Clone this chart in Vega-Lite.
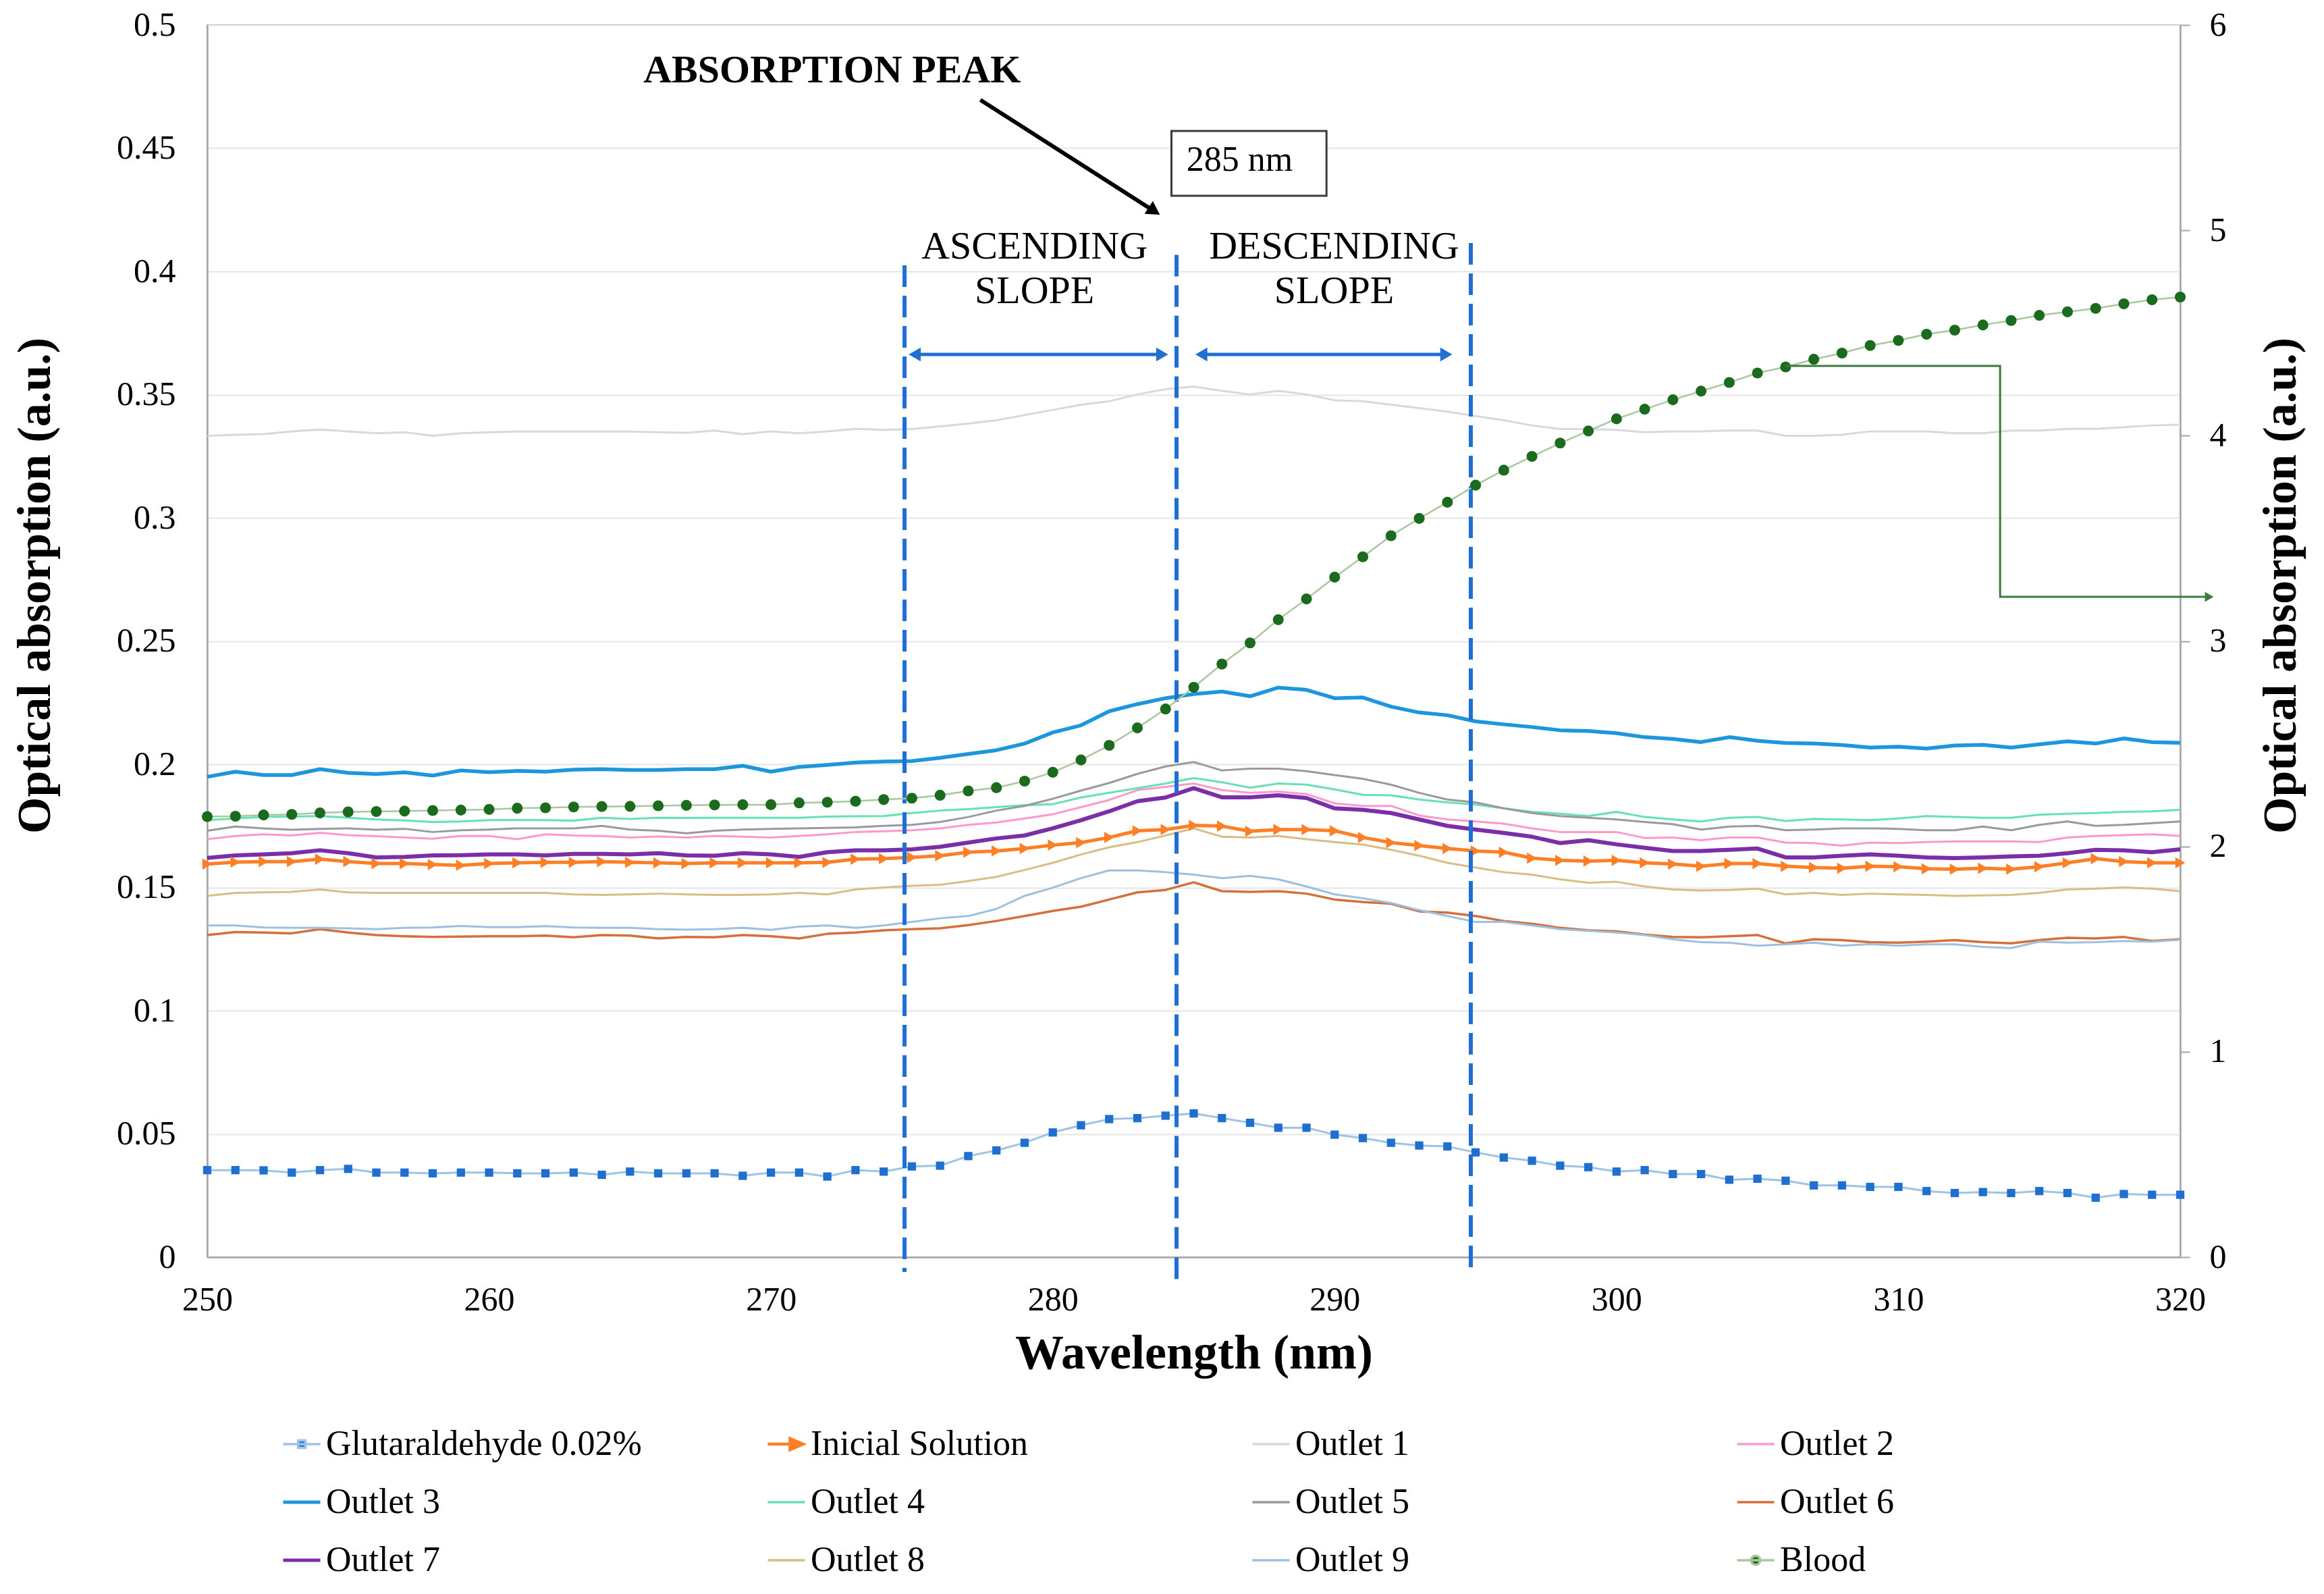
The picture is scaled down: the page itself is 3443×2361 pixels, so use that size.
{
"$schema":"https://vega.github.io/schema/vega-lite/v6.json",
"width":2923,"height":1825,
"autosize":{"type":"none"},
"padding":{"left":307,"top":37,"right":213,"bottom":499},
"background":"white",
"config":{
"font":"Liberation Serif",
"view":{"stroke":"#a6a6a6","strokeWidth":2},
"axis":{"labelFont":"Liberation Serif","titleFont":"Liberation Serif","labelFontSize":50,"titleFontSize":71,"titleFontWeight":"bold","labelColor":"#000000","titleColor":"#000000","domainColor":"#a6a6a6","domainWidth":2.5,"tickColor":"#a6a6a6","tickWidth":2,"grid":false,"labelFlush":false},
"legend":{"labelFont":"Liberation Serif"},
"text":{"font":"Liberation Serif"}
},
"datasets":{
"main":[
{"nm":250,"series":"Glutaraldehyde 0.02%","abs":0.0353},{"nm":251,"series":"Glutaraldehyde 0.02%","abs":0.0353},{"nm":252,"series":"Glutaraldehyde 0.02%","abs":0.0352},{"nm":253,"series":"Glutaraldehyde 0.02%","abs":0.0343},{"nm":254,"series":"Glutaraldehyde 0.02%","abs":0.0353},{"nm":255,"series":"Glutaraldehyde 0.02%","abs":0.0358},{"nm":256,"series":"Glutaraldehyde 0.02%","abs":0.0343},{"nm":257,"series":"Glutaraldehyde 0.02%","abs":0.0343},{"nm":258,"series":"Glutaraldehyde 0.02%","abs":0.0340},{"nm":259,"series":"Glutaraldehyde 0.02%","abs":0.0343},
{"nm":260,"series":"Glutaraldehyde 0.02%","abs":0.0343},{"nm":261,"series":"Glutaraldehyde 0.02%","abs":0.0340},{"nm":262,"series":"Glutaraldehyde 0.02%","abs":0.0340},{"nm":263,"series":"Glutaraldehyde 0.02%","abs":0.0343},{"nm":264,"series":"Glutaraldehyde 0.02%","abs":0.0334},{"nm":265,"series":"Glutaraldehyde 0.02%","abs":0.0347},{"nm":266,"series":"Glutaraldehyde 0.02%","abs":0.0340},{"nm":267,"series":"Glutaraldehyde 0.02%","abs":0.0340},{"nm":268,"series":"Glutaraldehyde 0.02%","abs":0.0340},{"nm":269,"series":"Glutaraldehyde 0.02%","abs":0.0330},
{"nm":270,"series":"Glutaraldehyde 0.02%","abs":0.0343},{"nm":271,"series":"Glutaraldehyde 0.02%","abs":0.0343},{"nm":272,"series":"Glutaraldehyde 0.02%","abs":0.0327},{"nm":273,"series":"Glutaraldehyde 0.02%","abs":0.0353},{"nm":274,"series":"Glutaraldehyde 0.02%","abs":0.0347},{"nm":275,"series":"Glutaraldehyde 0.02%","abs":0.0368},{"nm":276,"series":"Glutaraldehyde 0.02%","abs":0.0371},{"nm":277,"series":"Glutaraldehyde 0.02%","abs":0.0410},{"nm":278,"series":"Glutaraldehyde 0.02%","abs":0.0433},{"nm":279,"series":"Glutaraldehyde 0.02%","abs":0.0464},
{"nm":280,"series":"Glutaraldehyde 0.02%","abs":0.0506},{"nm":281,"series":"Glutaraldehyde 0.02%","abs":0.0535},{"nm":282,"series":"Glutaraldehyde 0.02%","abs":0.0560},{"nm":283,"series":"Glutaraldehyde 0.02%","abs":0.0564},{"nm":284,"series":"Glutaraldehyde 0.02%","abs":0.0574},{"nm":285,"series":"Glutaraldehyde 0.02%","abs":0.0583},{"nm":286,"series":"Glutaraldehyde 0.02%","abs":0.0564},{"nm":287,"series":"Glutaraldehyde 0.02%","abs":0.0545},{"nm":288,"series":"Glutaraldehyde 0.02%","abs":0.0525},{"nm":289,"series":"Glutaraldehyde 0.02%","abs":0.0525},
{"nm":290,"series":"Glutaraldehyde 0.02%","abs":0.0497},{"nm":291,"series":"Glutaraldehyde 0.02%","abs":0.0483},{"nm":292,"series":"Glutaraldehyde 0.02%","abs":0.0464},{"nm":293,"series":"Glutaraldehyde 0.02%","abs":0.0453},{"nm":294,"series":"Glutaraldehyde 0.02%","abs":0.0449},{"nm":295,"series":"Glutaraldehyde 0.02%","abs":0.0425},{"nm":296,"series":"Glutaraldehyde 0.02%","abs":0.0404},{"nm":297,"series":"Glutaraldehyde 0.02%","abs":0.0391},{"nm":298,"series":"Glutaraldehyde 0.02%","abs":0.0371},{"nm":299,"series":"Glutaraldehyde 0.02%","abs":0.0365},
{"nm":300,"series":"Glutaraldehyde 0.02%","abs":0.0347},{"nm":301,"series":"Glutaraldehyde 0.02%","abs":0.0353},{"nm":302,"series":"Glutaraldehyde 0.02%","abs":0.0337},{"nm":303,"series":"Glutaraldehyde 0.02%","abs":0.0337},{"nm":304,"series":"Glutaraldehyde 0.02%","abs":0.0314},{"nm":305,"series":"Glutaraldehyde 0.02%","abs":0.0318},{"nm":306,"series":"Glutaraldehyde 0.02%","abs":0.0310},{"nm":307,"series":"Glutaraldehyde 0.02%","abs":0.0291},{"nm":308,"series":"Glutaraldehyde 0.02%","abs":0.0291},{"nm":309,"series":"Glutaraldehyde 0.02%","abs":0.0285},
{"nm":310,"series":"Glutaraldehyde 0.02%","abs":0.0285},{"nm":311,"series":"Glutaraldehyde 0.02%","abs":0.0268},{"nm":312,"series":"Glutaraldehyde 0.02%","abs":0.0260},{"nm":313,"series":"Glutaraldehyde 0.02%","abs":0.0264},{"nm":314,"series":"Glutaraldehyde 0.02%","abs":0.0260},{"nm":315,"series":"Glutaraldehyde 0.02%","abs":0.0268},{"nm":316,"series":"Glutaraldehyde 0.02%","abs":0.0260},{"nm":317,"series":"Glutaraldehyde 0.02%","abs":0.0241},{"nm":318,"series":"Glutaraldehyde 0.02%","abs":0.0256},{"nm":319,"series":"Glutaraldehyde 0.02%","abs":0.0253},{"nm":320,"series":"Glutaraldehyde 0.02%","abs":0.0253},

{"nm":250,"series":"Inicial Solution","abs":0.1595},{"nm":251,"series":"Inicial Solution","abs":0.1603},{"nm":252,"series":"Inicial Solution","abs":0.1605},{"nm":253,"series":"Inicial Solution","abs":0.1605},{"nm":254,"series":"Inicial Solution","abs":0.1615},{"nm":255,"series":"Inicial Solution","abs":0.1605},{"nm":256,"series":"Inicial Solution","abs":0.1597},{"nm":257,"series":"Inicial Solution","abs":0.1597},{"nm":258,"series":"Inicial Solution","abs":0.1593},{"nm":259,"series":"Inicial Solution","abs":0.1590},
{"nm":260,"series":"Inicial Solution","abs":0.1597},{"nm":261,"series":"Inicial Solution","abs":0.1600},{"nm":262,"series":"Inicial Solution","abs":0.1602},{"nm":263,"series":"Inicial Solution","abs":0.1602},{"nm":264,"series":"Inicial Solution","abs":0.1605},{"nm":265,"series":"Inicial Solution","abs":0.1602},{"nm":266,"series":"Inicial Solution","abs":0.1600},{"nm":267,"series":"Inicial Solution","abs":0.1597},{"nm":268,"series":"Inicial Solution","abs":0.1600},{"nm":269,"series":"Inicial Solution","abs":0.1600},
{"nm":270,"series":"Inicial Solution","abs":0.1600},{"nm":271,"series":"Inicial Solution","abs":0.1600},{"nm":272,"series":"Inicial Solution","abs":0.1602},{"nm":273,"series":"Inicial Solution","abs":0.1615},{"nm":274,"series":"Inicial Solution","abs":0.1617},{"nm":275,"series":"Inicial Solution","abs":0.1622},{"nm":276,"series":"Inicial Solution","abs":0.1629},{"nm":277,"series":"Inicial Solution","abs":0.1643},{"nm":278,"series":"Inicial Solution","abs":0.1648},{"nm":279,"series":"Inicial Solution","abs":0.1658},
{"nm":280,"series":"Inicial Solution","abs":0.1672},{"nm":281,"series":"Inicial Solution","abs":0.1682},{"nm":282,"series":"Inicial Solution","abs":0.1703},{"nm":283,"series":"Inicial Solution","abs":0.1730},{"nm":284,"series":"Inicial Solution","abs":0.1735},{"nm":285,"series":"Inicial Solution","abs":0.1752},{"nm":286,"series":"Inicial Solution","abs":0.1749},{"nm":287,"series":"Inicial Solution","abs":0.1728},{"nm":288,"series":"Inicial Solution","abs":0.1735},{"nm":289,"series":"Inicial Solution","abs":0.1735},
{"nm":290,"series":"Inicial Solution","abs":0.1730},{"nm":291,"series":"Inicial Solution","abs":0.1703},{"nm":292,"series":"Inicial Solution","abs":0.1682},{"nm":293,"series":"Inicial Solution","abs":0.1670},{"nm":294,"series":"Inicial Solution","abs":0.1658},{"nm":295,"series":"Inicial Solution","abs":0.1648},{"nm":296,"series":"Inicial Solution","abs":0.1643},{"nm":297,"series":"Inicial Solution","abs":0.1619},{"nm":298,"series":"Inicial Solution","abs":0.1610},{"nm":299,"series":"Inicial Solution","abs":0.1607},
{"nm":300,"series":"Inicial Solution","abs":0.1610},{"nm":301,"series":"Inicial Solution","abs":0.1600},{"nm":302,"series":"Inicial Solution","abs":0.1595},{"nm":303,"series":"Inicial Solution","abs":0.1586},{"nm":304,"series":"Inicial Solution","abs":0.1597},{"nm":305,"series":"Inicial Solution","abs":0.1597},{"nm":306,"series":"Inicial Solution","abs":0.1586},{"nm":307,"series":"Inicial Solution","abs":0.1581},{"nm":308,"series":"Inicial Solution","abs":0.1578},{"nm":309,"series":"Inicial Solution","abs":0.1586},
{"nm":310,"series":"Inicial Solution","abs":0.1584},{"nm":311,"series":"Inicial Solution","abs":0.1576},{"nm":312,"series":"Inicial Solution","abs":0.1574},{"nm":313,"series":"Inicial Solution","abs":0.1578},{"nm":314,"series":"Inicial Solution","abs":0.1574},{"nm":315,"series":"Inicial Solution","abs":0.1584},{"nm":316,"series":"Inicial Solution","abs":0.1600},{"nm":317,"series":"Inicial Solution","abs":0.1617},{"nm":318,"series":"Inicial Solution","abs":0.1605},{"nm":319,"series":"Inicial Solution","abs":0.1600},{"nm":320,"series":"Inicial Solution","abs":0.1600},

{"nm":250,"series":"Outlet 1","abs":0.3333},{"nm":251,"series":"Outlet 1","abs":0.3337},{"nm":252,"series":"Outlet 1","abs":0.3340},{"nm":253,"series":"Outlet 1","abs":0.3351},{"nm":254,"series":"Outlet 1","abs":0.3358},{"nm":255,"series":"Outlet 1","abs":0.3351},{"nm":256,"series":"Outlet 1","abs":0.3343},{"nm":257,"series":"Outlet 1","abs":0.3347},{"nm":258,"series":"Outlet 1","abs":0.3333},{"nm":259,"series":"Outlet 1","abs":0.3343},
{"nm":260,"series":"Outlet 1","abs":0.3347},{"nm":261,"series":"Outlet 1","abs":0.3350},{"nm":262,"series":"Outlet 1","abs":0.3350},{"nm":263,"series":"Outlet 1","abs":0.3350},{"nm":264,"series":"Outlet 1","abs":0.3350},{"nm":265,"series":"Outlet 1","abs":0.3350},{"nm":266,"series":"Outlet 1","abs":0.3347},{"nm":267,"series":"Outlet 1","abs":0.3345},{"nm":268,"series":"Outlet 1","abs":0.3354},{"nm":269,"series":"Outlet 1","abs":0.3340},
{"nm":270,"series":"Outlet 1","abs":0.3351},{"nm":271,"series":"Outlet 1","abs":0.3343},{"nm":272,"series":"Outlet 1","abs":0.3351},{"nm":273,"series":"Outlet 1","abs":0.3361},{"nm":274,"series":"Outlet 1","abs":0.3357},{"nm":275,"series":"Outlet 1","abs":0.3360},{"nm":276,"series":"Outlet 1","abs":0.3371},{"nm":277,"series":"Outlet 1","abs":0.3382},{"nm":278,"series":"Outlet 1","abs":0.3396},{"nm":279,"series":"Outlet 1","abs":0.3417},
{"nm":280,"series":"Outlet 1","abs":0.3438},{"nm":281,"series":"Outlet 1","abs":0.3459},{"nm":282,"series":"Outlet 1","abs":0.3473},{"nm":283,"series":"Outlet 1","abs":0.3501},{"nm":284,"series":"Outlet 1","abs":0.3522},{"nm":285,"series":"Outlet 1","abs":0.3533},{"nm":286,"series":"Outlet 1","abs":0.3515},{"nm":287,"series":"Outlet 1","abs":0.3501},{"nm":288,"series":"Outlet 1","abs":0.3515},{"nm":289,"series":"Outlet 1","abs":0.3501},
{"nm":290,"series":"Outlet 1","abs":0.3477},{"nm":291,"series":"Outlet 1","abs":0.3473},{"nm":292,"series":"Outlet 1","abs":0.3459},{"nm":293,"series":"Outlet 1","abs":0.3445},{"nm":294,"series":"Outlet 1","abs":0.3431},{"nm":295,"series":"Outlet 1","abs":0.3413},{"nm":296,"series":"Outlet 1","abs":0.3396},{"nm":297,"series":"Outlet 1","abs":0.3375},{"nm":298,"series":"Outlet 1","abs":0.3360},{"nm":299,"series":"Outlet 1","abs":0.3360},
{"nm":300,"series":"Outlet 1","abs":0.3357},{"nm":301,"series":"Outlet 1","abs":0.3347},{"nm":302,"series":"Outlet 1","abs":0.3351},{"nm":303,"series":"Outlet 1","abs":0.3351},{"nm":304,"series":"Outlet 1","abs":0.3354},{"nm":305,"series":"Outlet 1","abs":0.3354},{"nm":306,"series":"Outlet 1","abs":0.3333},{"nm":307,"series":"Outlet 1","abs":0.3333},{"nm":308,"series":"Outlet 1","abs":0.3337},{"nm":309,"series":"Outlet 1","abs":0.3351},
{"nm":310,"series":"Outlet 1","abs":0.3351},{"nm":311,"series":"Outlet 1","abs":0.3351},{"nm":312,"series":"Outlet 1","abs":0.3343},{"nm":313,"series":"Outlet 1","abs":0.3343},{"nm":314,"series":"Outlet 1","abs":0.3354},{"nm":315,"series":"Outlet 1","abs":0.3354},{"nm":316,"series":"Outlet 1","abs":0.3361},{"nm":317,"series":"Outlet 1","abs":0.3361},{"nm":318,"series":"Outlet 1","abs":0.3368},{"nm":319,"series":"Outlet 1","abs":0.3375},{"nm":320,"series":"Outlet 1","abs":0.3378},

{"nm":250,"series":"Outlet 2","abs":0.1696},{"nm":251,"series":"Outlet 2","abs":0.1709},{"nm":252,"series":"Outlet 2","abs":0.1716},{"nm":253,"series":"Outlet 2","abs":0.1711},{"nm":254,"series":"Outlet 2","abs":0.1722},{"nm":255,"series":"Outlet 2","abs":0.1712},{"nm":256,"series":"Outlet 2","abs":0.1708},{"nm":257,"series":"Outlet 2","abs":0.1703},{"nm":258,"series":"Outlet 2","abs":0.1698},{"nm":259,"series":"Outlet 2","abs":0.1709},
{"nm":260,"series":"Outlet 2","abs":0.1709},{"nm":261,"series":"Outlet 2","abs":0.1696},{"nm":262,"series":"Outlet 2","abs":0.1716},{"nm":263,"series":"Outlet 2","abs":0.1711},{"nm":264,"series":"Outlet 2","abs":0.1709},{"nm":265,"series":"Outlet 2","abs":0.1703},{"nm":266,"series":"Outlet 2","abs":0.1707},{"nm":267,"series":"Outlet 2","abs":0.1703},{"nm":268,"series":"Outlet 2","abs":0.1709},{"nm":269,"series":"Outlet 2","abs":0.1706},
{"nm":270,"series":"Outlet 2","abs":0.1703},{"nm":271,"series":"Outlet 2","abs":0.1709},{"nm":272,"series":"Outlet 2","abs":0.1716},{"nm":273,"series":"Outlet 2","abs":0.1725},{"nm":274,"series":"Outlet 2","abs":0.1728},{"nm":275,"series":"Outlet 2","abs":0.1732},{"nm":276,"series":"Outlet 2","abs":0.1740},{"nm":277,"series":"Outlet 2","abs":0.1754},{"nm":278,"series":"Outlet 2","abs":0.1764},{"nm":279,"series":"Outlet 2","abs":0.1780},
{"nm":280,"series":"Outlet 2","abs":0.1797},{"nm":281,"series":"Outlet 2","abs":0.1826},{"nm":282,"series":"Outlet 2","abs":0.1855},{"nm":283,"series":"Outlet 2","abs":0.1895},{"nm":284,"series":"Outlet 2","abs":0.1908},{"nm":285,"series":"Outlet 2","abs":0.1922},{"nm":286,"series":"Outlet 2","abs":0.1895},{"nm":287,"series":"Outlet 2","abs":0.1884},{"nm":288,"series":"Outlet 2","abs":0.1889},{"nm":289,"series":"Outlet 2","abs":0.1879},
{"nm":290,"series":"Outlet 2","abs":0.1841},{"nm":291,"series":"Outlet 2","abs":0.1831},{"nm":292,"series":"Outlet 2","abs":0.1831},{"nm":293,"series":"Outlet 2","abs":0.1792},{"nm":294,"series":"Outlet 2","abs":0.1776},{"nm":295,"series":"Outlet 2","abs":0.1768},{"nm":296,"series":"Outlet 2","abs":0.1759},{"nm":297,"series":"Outlet 2","abs":0.1740},{"nm":298,"series":"Outlet 2","abs":0.1725},{"nm":299,"series":"Outlet 2","abs":0.1725},
{"nm":300,"series":"Outlet 2","abs":0.1725},{"nm":301,"series":"Outlet 2","abs":0.1701},{"nm":302,"series":"Outlet 2","abs":0.1703},{"nm":303,"series":"Outlet 2","abs":0.1692},{"nm":304,"series":"Outlet 2","abs":0.1703},{"nm":305,"series":"Outlet 2","abs":0.1703},{"nm":306,"series":"Outlet 2","abs":0.1682},{"nm":307,"series":"Outlet 2","abs":0.1680},{"nm":308,"series":"Outlet 2","abs":0.1670},{"nm":309,"series":"Outlet 2","abs":0.1682},
{"nm":310,"series":"Outlet 2","abs":0.1680},{"nm":311,"series":"Outlet 2","abs":0.1684},{"nm":312,"series":"Outlet 2","abs":0.1687},{"nm":313,"series":"Outlet 2","abs":0.1687},{"nm":314,"series":"Outlet 2","abs":0.1687},{"nm":315,"series":"Outlet 2","abs":0.1684},{"nm":316,"series":"Outlet 2","abs":0.1703},{"nm":317,"series":"Outlet 2","abs":0.1709},{"nm":318,"series":"Outlet 2","abs":0.1712},{"nm":319,"series":"Outlet 2","abs":0.1716},{"nm":320,"series":"Outlet 2","abs":0.1709},

{"nm":250,"series":"Outlet 3","abs":0.1949},{"nm":251,"series":"Outlet 3","abs":0.1970},{"nm":252,"series":"Outlet 3","abs":0.1956},{"nm":253,"series":"Outlet 3","abs":0.1956},{"nm":254,"series":"Outlet 3","abs":0.1980},{"nm":255,"series":"Outlet 3","abs":0.1965},{"nm":256,"series":"Outlet 3","abs":0.1960},{"nm":257,"series":"Outlet 3","abs":0.1967},{"nm":258,"series":"Outlet 3","abs":0.1954},{"nm":259,"series":"Outlet 3","abs":0.1975},
{"nm":260,"series":"Outlet 3","abs":0.1968},{"nm":261,"series":"Outlet 3","abs":0.1973},{"nm":262,"series":"Outlet 3","abs":0.1970},{"nm":263,"series":"Outlet 3","abs":0.1978},{"nm":264,"series":"Outlet 3","abs":0.1980},{"nm":265,"series":"Outlet 3","abs":0.1977},{"nm":266,"series":"Outlet 3","abs":0.1977},{"nm":267,"series":"Outlet 3","abs":0.1980},{"nm":268,"series":"Outlet 3","abs":0.1980},{"nm":269,"series":"Outlet 3","abs":0.1994},
{"nm":270,"series":"Outlet 3","abs":0.1970},{"nm":271,"series":"Outlet 3","abs":0.1989},{"nm":272,"series":"Outlet 3","abs":0.1997},{"nm":273,"series":"Outlet 3","abs":0.2007},{"nm":274,"series":"Outlet 3","abs":0.2011},{"nm":275,"series":"Outlet 3","abs":0.2013},{"nm":276,"series":"Outlet 3","abs":0.2026},{"nm":277,"series":"Outlet 3","abs":0.2042},{"nm":278,"series":"Outlet 3","abs":0.2057},{"nm":279,"series":"Outlet 3","abs":0.2084},
{"nm":280,"series":"Outlet 3","abs":0.2129},{"nm":281,"series":"Outlet 3","abs":0.2158},{"nm":282,"series":"Outlet 3","abs":0.2215},{"nm":283,"series":"Outlet 3","abs":0.2244},{"nm":284,"series":"Outlet 3","abs":0.2268},{"nm":285,"series":"Outlet 3","abs":0.2285},{"nm":286,"series":"Outlet 3","abs":0.2295},{"nm":287,"series":"Outlet 3","abs":0.2276},{"nm":288,"series":"Outlet 3","abs":0.2311},{"nm":289,"series":"Outlet 3","abs":0.2302},
{"nm":290,"series":"Outlet 3","abs":0.2268},{"nm":291,"series":"Outlet 3","abs":0.2271},{"nm":292,"series":"Outlet 3","abs":0.2234},{"nm":293,"series":"Outlet 3","abs":0.2210},{"nm":294,"series":"Outlet 3","abs":0.2199},{"nm":295,"series":"Outlet 3","abs":0.2174},{"nm":296,"series":"Outlet 3","abs":0.2162},{"nm":297,"series":"Outlet 3","abs":0.2151},{"nm":298,"series":"Outlet 3","abs":0.2138},{"nm":299,"series":"Outlet 3","abs":0.2135},
{"nm":300,"series":"Outlet 3","abs":0.2126},{"nm":301,"series":"Outlet 3","abs":0.2110},{"nm":302,"series":"Outlet 3","abs":0.2103},{"nm":303,"series":"Outlet 3","abs":0.2090},{"nm":304,"series":"Outlet 3","abs":0.2110},{"nm":305,"series":"Outlet 3","abs":0.2095},{"nm":306,"series":"Outlet 3","abs":0.2086},{"nm":307,"series":"Outlet 3","abs":0.2084},{"nm":308,"series":"Outlet 3","abs":0.2078},{"nm":309,"series":"Outlet 3","abs":0.2068},
{"nm":310,"series":"Outlet 3","abs":0.2071},{"nm":311,"series":"Outlet 3","abs":0.2064},{"nm":312,"series":"Outlet 3","abs":0.2076},{"nm":313,"series":"Outlet 3","abs":0.2079},{"nm":314,"series":"Outlet 3","abs":0.2068},{"nm":315,"series":"Outlet 3","abs":0.2081},{"nm":316,"series":"Outlet 3","abs":0.2093},{"nm":317,"series":"Outlet 3","abs":0.2084},{"nm":318,"series":"Outlet 3","abs":0.2105},{"nm":319,"series":"Outlet 3","abs":0.2090},{"nm":320,"series":"Outlet 3","abs":0.2087},

{"nm":250,"series":"Outlet 4","abs":0.1773},{"nm":251,"series":"Outlet 4","abs":0.1780},{"nm":252,"series":"Outlet 4","abs":0.1786},{"nm":253,"series":"Outlet 4","abs":0.1788},{"nm":254,"series":"Outlet 4","abs":0.1790},{"nm":255,"series":"Outlet 4","abs":0.1783},{"nm":256,"series":"Outlet 4","abs":0.1776},{"nm":257,"series":"Outlet 4","abs":0.1772},{"nm":258,"series":"Outlet 4","abs":0.1766},{"nm":259,"series":"Outlet 4","abs":0.1768},
{"nm":260,"series":"Outlet 4","abs":0.1773},{"nm":261,"series":"Outlet 4","abs":0.1774},{"nm":262,"series":"Outlet 4","abs":0.1773},{"nm":263,"series":"Outlet 4","abs":0.1771},{"nm":264,"series":"Outlet 4","abs":0.1783},{"nm":265,"series":"Outlet 4","abs":0.1778},{"nm":266,"series":"Outlet 4","abs":0.1783},{"nm":267,"series":"Outlet 4","abs":0.1782},{"nm":268,"series":"Outlet 4","abs":0.1783},{"nm":269,"series":"Outlet 4","abs":0.1783},
{"nm":270,"series":"Outlet 4","abs":0.1783},{"nm":271,"series":"Outlet 4","abs":0.1783},{"nm":272,"series":"Outlet 4","abs":0.1788},{"nm":273,"series":"Outlet 4","abs":0.1789},{"nm":274,"series":"Outlet 4","abs":0.1790},{"nm":275,"series":"Outlet 4","abs":0.1802},{"nm":276,"series":"Outlet 4","abs":0.1812},{"nm":277,"series":"Outlet 4","abs":0.1818},{"nm":278,"series":"Outlet 4","abs":0.1826},{"nm":279,"series":"Outlet 4","abs":0.1834},
{"nm":280,"series":"Outlet 4","abs":0.1838},{"nm":281,"series":"Outlet 4","abs":0.1865},{"nm":282,"series":"Outlet 4","abs":0.1884},{"nm":283,"series":"Outlet 4","abs":0.1903},{"nm":284,"series":"Outlet 4","abs":0.1922},{"nm":285,"series":"Outlet 4","abs":0.1944},{"nm":286,"series":"Outlet 4","abs":0.1927},{"nm":287,"series":"Outlet 4","abs":0.1905},{"nm":288,"series":"Outlet 4","abs":0.1922},{"nm":289,"series":"Outlet 4","abs":0.1917},
{"nm":290,"series":"Outlet 4","abs":0.1898},{"nm":291,"series":"Outlet 4","abs":0.1876},{"nm":292,"series":"Outlet 4","abs":0.1874},{"nm":293,"series":"Outlet 4","abs":0.1857},{"nm":294,"series":"Outlet 4","abs":0.1845},{"nm":295,"series":"Outlet 4","abs":0.1836},{"nm":296,"series":"Outlet 4","abs":0.1821},{"nm":297,"series":"Outlet 4","abs":0.1807},{"nm":298,"series":"Outlet 4","abs":0.1799},{"nm":299,"series":"Outlet 4","abs":0.1790},
{"nm":300,"series":"Outlet 4","abs":0.1807},{"nm":301,"series":"Outlet 4","abs":0.1786},{"nm":302,"series":"Outlet 4","abs":0.1776},{"nm":303,"series":"Outlet 4","abs":0.1768},{"nm":304,"series":"Outlet 4","abs":0.1783},{"nm":305,"series":"Outlet 4","abs":0.1786},{"nm":306,"series":"Outlet 4","abs":0.1770},{"nm":307,"series":"Outlet 4","abs":0.1778},{"nm":308,"series":"Outlet 4","abs":0.1776},{"nm":309,"series":"Outlet 4","abs":0.1773},
{"nm":310,"series":"Outlet 4","abs":0.1780},{"nm":311,"series":"Outlet 4","abs":0.1790},{"nm":312,"series":"Outlet 4","abs":0.1786},{"nm":313,"series":"Outlet 4","abs":0.1783},{"nm":314,"series":"Outlet 4","abs":0.1783},{"nm":315,"series":"Outlet 4","abs":0.1795},{"nm":316,"series":"Outlet 4","abs":0.1799},{"nm":317,"series":"Outlet 4","abs":0.1802},{"nm":318,"series":"Outlet 4","abs":0.1807},{"nm":319,"series":"Outlet 4","abs":0.1809},{"nm":320,"series":"Outlet 4","abs":0.1815},

{"nm":250,"series":"Outlet 5","abs":0.1730},{"nm":251,"series":"Outlet 5","abs":0.1747},{"nm":252,"series":"Outlet 5","abs":0.1740},{"nm":253,"series":"Outlet 5","abs":0.1734},{"nm":254,"series":"Outlet 5","abs":0.1738},{"nm":255,"series":"Outlet 5","abs":0.1740},{"nm":256,"series":"Outlet 5","abs":0.1734},{"nm":257,"series":"Outlet 5","abs":0.1738},{"nm":258,"series":"Outlet 5","abs":0.1725},{"nm":259,"series":"Outlet 5","abs":0.1732},
{"nm":260,"series":"Outlet 5","abs":0.1735},{"nm":261,"series":"Outlet 5","abs":0.1740},{"nm":262,"series":"Outlet 5","abs":0.1740},{"nm":263,"series":"Outlet 5","abs":0.1740},{"nm":264,"series":"Outlet 5","abs":0.1750},{"nm":265,"series":"Outlet 5","abs":0.1735},{"nm":266,"series":"Outlet 5","abs":0.1730},{"nm":267,"series":"Outlet 5","abs":0.1720},{"nm":268,"series":"Outlet 5","abs":0.1730},{"nm":269,"series":"Outlet 5","abs":0.1735},
{"nm":270,"series":"Outlet 5","abs":0.1738},{"nm":271,"series":"Outlet 5","abs":0.1740},{"nm":272,"series":"Outlet 5","abs":0.1742},{"nm":273,"series":"Outlet 5","abs":0.1744},{"nm":274,"series":"Outlet 5","abs":0.1750},{"nm":275,"series":"Outlet 5","abs":0.1754},{"nm":276,"series":"Outlet 5","abs":0.1766},{"nm":277,"series":"Outlet 5","abs":0.1786},{"nm":278,"series":"Outlet 5","abs":0.1812},{"nm":279,"series":"Outlet 5","abs":0.1831},
{"nm":280,"series":"Outlet 5","abs":0.1860},{"nm":281,"series":"Outlet 5","abs":0.1893},{"nm":282,"series":"Outlet 5","abs":0.1924},{"nm":283,"series":"Outlet 5","abs":0.1961},{"nm":284,"series":"Outlet 5","abs":0.1991},{"nm":285,"series":"Outlet 5","abs":0.2009},{"nm":286,"series":"Outlet 5","abs":0.1975},{"nm":287,"series":"Outlet 5","abs":0.1982},{"nm":288,"series":"Outlet 5","abs":0.1982},{"nm":289,"series":"Outlet 5","abs":0.1972},
{"nm":290,"series":"Outlet 5","abs":0.1956},{"nm":291,"series":"Outlet 5","abs":0.1941},{"nm":292,"series":"Outlet 5","abs":0.1917},{"nm":293,"series":"Outlet 5","abs":0.1884},{"nm":294,"series":"Outlet 5","abs":0.1857},{"nm":295,"series":"Outlet 5","abs":0.1845},{"nm":296,"series":"Outlet 5","abs":0.1821},{"nm":297,"series":"Outlet 5","abs":0.1802},{"nm":298,"series":"Outlet 5","abs":0.1790},{"nm":299,"series":"Outlet 5","abs":0.1783},
{"nm":300,"series":"Outlet 5","abs":0.1776},{"nm":301,"series":"Outlet 5","abs":0.1766},{"nm":302,"series":"Outlet 5","abs":0.1757},{"nm":303,"series":"Outlet 5","abs":0.1735},{"nm":304,"series":"Outlet 5","abs":0.1747},{"nm":305,"series":"Outlet 5","abs":0.1750},{"nm":306,"series":"Outlet 5","abs":0.1732},{"nm":307,"series":"Outlet 5","abs":0.1735},{"nm":308,"series":"Outlet 5","abs":0.1740},{"nm":309,"series":"Outlet 5","abs":0.1740},
{"nm":310,"series":"Outlet 5","abs":0.1738},{"nm":311,"series":"Outlet 5","abs":0.1732},{"nm":312,"series":"Outlet 5","abs":0.1732},{"nm":313,"series":"Outlet 5","abs":0.1747},{"nm":314,"series":"Outlet 5","abs":0.1732},{"nm":315,"series":"Outlet 5","abs":0.1754},{"nm":316,"series":"Outlet 5","abs":0.1768},{"nm":317,"series":"Outlet 5","abs":0.1750},{"nm":318,"series":"Outlet 5","abs":0.1754},{"nm":319,"series":"Outlet 5","abs":0.1761},{"nm":320,"series":"Outlet 5","abs":0.1768},

{"nm":250,"series":"Outlet 6","abs":0.1307},{"nm":251,"series":"Outlet 6","abs":0.1319},{"nm":252,"series":"Outlet 6","abs":0.1317},{"nm":253,"series":"Outlet 6","abs":0.1314},{"nm":254,"series":"Outlet 6","abs":0.1331},{"nm":255,"series":"Outlet 6","abs":0.1317},{"nm":256,"series":"Outlet 6","abs":0.1307},{"nm":257,"series":"Outlet 6","abs":0.1302},{"nm":258,"series":"Outlet 6","abs":0.1299},{"nm":259,"series":"Outlet 6","abs":0.1301},
{"nm":260,"series":"Outlet 6","abs":0.1302},{"nm":261,"series":"Outlet 6","abs":0.1302},{"nm":262,"series":"Outlet 6","abs":0.1305},{"nm":263,"series":"Outlet 6","abs":0.1298},{"nm":264,"series":"Outlet 6","abs":0.1307},{"nm":265,"series":"Outlet 6","abs":0.1305},{"nm":266,"series":"Outlet 6","abs":0.1293},{"nm":267,"series":"Outlet 6","abs":0.1299},{"nm":268,"series":"Outlet 6","abs":0.1298},{"nm":269,"series":"Outlet 6","abs":0.1307},
{"nm":270,"series":"Outlet 6","abs":0.1302},{"nm":271,"series":"Outlet 6","abs":0.1293},{"nm":272,"series":"Outlet 6","abs":0.1312},{"nm":273,"series":"Outlet 6","abs":0.1317},{"nm":274,"series":"Outlet 6","abs":0.1326},{"nm":275,"series":"Outlet 6","abs":0.1331},{"nm":276,"series":"Outlet 6","abs":0.1334},{"nm":277,"series":"Outlet 6","abs":0.1347},{"nm":278,"series":"Outlet 6","abs":0.1364},{"nm":279,"series":"Outlet 6","abs":0.1384},
{"nm":280,"series":"Outlet 6","abs":0.1405},{"nm":281,"series":"Outlet 6","abs":0.1422},{"nm":282,"series":"Outlet 6","abs":0.1451},{"nm":283,"series":"Outlet 6","abs":0.1480},{"nm":284,"series":"Outlet 6","abs":0.1490},{"nm":285,"series":"Outlet 6","abs":0.1521},{"nm":286,"series":"Outlet 6","abs":0.1485},{"nm":287,"series":"Outlet 6","abs":0.1482},{"nm":288,"series":"Outlet 6","abs":0.1485},{"nm":289,"series":"Outlet 6","abs":0.1475},
{"nm":290,"series":"Outlet 6","abs":0.1451},{"nm":291,"series":"Outlet 6","abs":0.1441},{"nm":292,"series":"Outlet 6","abs":0.1434},{"nm":293,"series":"Outlet 6","abs":0.1403},{"nm":294,"series":"Outlet 6","abs":0.1398},{"nm":295,"series":"Outlet 6","abs":0.1384},{"nm":296,"series":"Outlet 6","abs":0.1364},{"nm":297,"series":"Outlet 6","abs":0.1353},{"nm":298,"series":"Outlet 6","abs":0.1336},{"nm":299,"series":"Outlet 6","abs":0.1326},
{"nm":300,"series":"Outlet 6","abs":0.1322},{"nm":301,"series":"Outlet 6","abs":0.1309},{"nm":302,"series":"Outlet 6","abs":0.1299},{"nm":303,"series":"Outlet 6","abs":0.1298},{"nm":304,"series":"Outlet 6","abs":0.1302},{"nm":305,"series":"Outlet 6","abs":0.1307},{"nm":306,"series":"Outlet 6","abs":0.1273},{"nm":307,"series":"Outlet 6","abs":0.1290},{"nm":308,"series":"Outlet 6","abs":0.1286},{"nm":309,"series":"Outlet 6","abs":0.1278},
{"nm":310,"series":"Outlet 6","abs":0.1276},{"nm":311,"series":"Outlet 6","abs":0.1280},{"nm":312,"series":"Outlet 6","abs":0.1286},{"nm":313,"series":"Outlet 6","abs":0.1278},{"nm":314,"series":"Outlet 6","abs":0.1273},{"nm":315,"series":"Outlet 6","abs":0.1286},{"nm":316,"series":"Outlet 6","abs":0.1296},{"nm":317,"series":"Outlet 6","abs":0.1293},{"nm":318,"series":"Outlet 6","abs":0.1299},{"nm":319,"series":"Outlet 6","abs":0.1283},{"nm":320,"series":"Outlet 6","abs":0.1290},

{"nm":250,"series":"Outlet 7","abs":0.1620},{"nm":251,"series":"Outlet 7","abs":0.1630},{"nm":252,"series":"Outlet 7","abs":0.1634},{"nm":253,"series":"Outlet 7","abs":0.1639},{"nm":254,"series":"Outlet 7","abs":0.1651},{"nm":255,"series":"Outlet 7","abs":0.1639},{"nm":256,"series":"Outlet 7","abs":0.1622},{"nm":257,"series":"Outlet 7","abs":0.1624},{"nm":258,"series":"Outlet 7","abs":0.1630},{"nm":259,"series":"Outlet 7","abs":0.1631},
{"nm":260,"series":"Outlet 7","abs":0.1634},{"nm":261,"series":"Outlet 7","abs":0.1634},{"nm":262,"series":"Outlet 7","abs":0.1630},{"nm":263,"series":"Outlet 7","abs":0.1636},{"nm":264,"series":"Outlet 7","abs":0.1636},{"nm":265,"series":"Outlet 7","abs":0.1634},{"nm":266,"series":"Outlet 7","abs":0.1639},{"nm":267,"series":"Outlet 7","abs":0.1630},{"nm":268,"series":"Outlet 7","abs":0.1629},{"nm":269,"series":"Outlet 7","abs":0.1639},
{"nm":270,"series":"Outlet 7","abs":0.1634},{"nm":271,"series":"Outlet 7","abs":0.1624},{"nm":272,"series":"Outlet 7","abs":0.1643},{"nm":273,"series":"Outlet 7","abs":0.1651},{"nm":274,"series":"Outlet 7","abs":0.1651},{"nm":275,"series":"Outlet 7","abs":0.1655},{"nm":276,"series":"Outlet 7","abs":0.1665},{"nm":277,"series":"Outlet 7","abs":0.1682},{"nm":278,"series":"Outlet 7","abs":0.1699},{"nm":279,"series":"Outlet 7","abs":0.1711},
{"nm":280,"series":"Outlet 7","abs":0.1740},{"nm":281,"series":"Outlet 7","abs":0.1773},{"nm":282,"series":"Outlet 7","abs":0.1809},{"nm":283,"series":"Outlet 7","abs":0.1850},{"nm":284,"series":"Outlet 7","abs":0.1865},{"nm":285,"series":"Outlet 7","abs":0.1903},{"nm":286,"series":"Outlet 7","abs":0.1866},{"nm":287,"series":"Outlet 7","abs":0.1866},{"nm":288,"series":"Outlet 7","abs":0.1874},{"nm":289,"series":"Outlet 7","abs":0.1863},
{"nm":290,"series":"Outlet 7","abs":0.1821},{"nm":291,"series":"Outlet 7","abs":0.1815},{"nm":292,"series":"Outlet 7","abs":0.1802},{"nm":293,"series":"Outlet 7","abs":0.1776},{"nm":294,"series":"Outlet 7","abs":0.1750},{"nm":295,"series":"Outlet 7","abs":0.1735},{"nm":296,"series":"Outlet 7","abs":0.1721},{"nm":297,"series":"Outlet 7","abs":0.1706},{"nm":298,"series":"Outlet 7","abs":0.1680},{"nm":299,"series":"Outlet 7","abs":0.1692},
{"nm":300,"series":"Outlet 7","abs":0.1675},{"nm":301,"series":"Outlet 7","abs":0.1661},{"nm":302,"series":"Outlet 7","abs":0.1648},{"nm":303,"series":"Outlet 7","abs":0.1648},{"nm":304,"series":"Outlet 7","abs":0.1653},{"nm":305,"series":"Outlet 7","abs":0.1658},{"nm":306,"series":"Outlet 7","abs":0.1622},{"nm":307,"series":"Outlet 7","abs":0.1622},{"nm":308,"series":"Outlet 7","abs":0.1629},{"nm":309,"series":"Outlet 7","abs":0.1634},
{"nm":310,"series":"Outlet 7","abs":0.1629},{"nm":311,"series":"Outlet 7","abs":0.1622},{"nm":312,"series":"Outlet 7","abs":0.1619},{"nm":313,"series":"Outlet 7","abs":0.1622},{"nm":314,"series":"Outlet 7","abs":0.1626},{"nm":315,"series":"Outlet 7","abs":0.1629},{"nm":316,"series":"Outlet 7","abs":0.1639},{"nm":317,"series":"Outlet 7","abs":0.1653},{"nm":318,"series":"Outlet 7","abs":0.1651},{"nm":319,"series":"Outlet 7","abs":0.1643},{"nm":320,"series":"Outlet 7","abs":0.1655},

{"nm":250,"series":"Outlet 8","abs":0.1466},{"nm":251,"series":"Outlet 8","abs":0.1478},{"nm":252,"series":"Outlet 8","abs":0.1480},{"nm":253,"series":"Outlet 8","abs":0.1482},{"nm":254,"series":"Outlet 8","abs":0.1492},{"nm":255,"series":"Outlet 8","abs":0.1480},{"nm":256,"series":"Outlet 8","abs":0.1478},{"nm":257,"series":"Outlet 8","abs":0.1478},{"nm":258,"series":"Outlet 8","abs":0.1478},{"nm":259,"series":"Outlet 8","abs":0.1478},
{"nm":260,"series":"Outlet 8","abs":0.1478},{"nm":261,"series":"Outlet 8","abs":0.1478},{"nm":262,"series":"Outlet 8","abs":0.1478},{"nm":263,"series":"Outlet 8","abs":0.1472},{"nm":264,"series":"Outlet 8","abs":0.1470},{"nm":265,"series":"Outlet 8","abs":0.1472},{"nm":266,"series":"Outlet 8","abs":0.1475},{"nm":267,"series":"Outlet 8","abs":0.1472},{"nm":268,"series":"Outlet 8","abs":0.1470},{"nm":269,"series":"Outlet 8","abs":0.1470},
{"nm":270,"series":"Outlet 8","abs":0.1472},{"nm":271,"series":"Outlet 8","abs":0.1478},{"nm":272,"series":"Outlet 8","abs":0.1472},{"nm":273,"series":"Outlet 8","abs":0.1492},{"nm":274,"series":"Outlet 8","abs":0.1500},{"nm":275,"series":"Outlet 8","abs":0.1507},{"nm":276,"series":"Outlet 8","abs":0.1511},{"nm":277,"series":"Outlet 8","abs":0.1526},{"nm":278,"series":"Outlet 8","abs":0.1543},{"nm":279,"series":"Outlet 8","abs":0.1571},
{"nm":280,"series":"Outlet 8","abs":0.1600},{"nm":281,"series":"Outlet 8","abs":0.1634},{"nm":282,"series":"Outlet 8","abs":0.1663},{"nm":283,"series":"Outlet 8","abs":0.1684},{"nm":284,"series":"Outlet 8","abs":0.1711},{"nm":285,"series":"Outlet 8","abs":0.1740},{"nm":286,"series":"Outlet 8","abs":0.1706},{"nm":287,"series":"Outlet 8","abs":0.1703},{"nm":288,"series":"Outlet 8","abs":0.1709},{"nm":289,"series":"Outlet 8","abs":0.1696},
{"nm":290,"series":"Outlet 8","abs":0.1684},{"nm":291,"series":"Outlet 8","abs":0.1674},{"nm":292,"series":"Outlet 8","abs":0.1653},{"nm":293,"series":"Outlet 8","abs":0.1629},{"nm":294,"series":"Outlet 8","abs":0.1600},{"nm":295,"series":"Outlet 8","abs":0.1581},{"nm":296,"series":"Outlet 8","abs":0.1562},{"nm":297,"series":"Outlet 8","abs":0.1552},{"nm":298,"series":"Outlet 8","abs":0.1533},{"nm":299,"series":"Outlet 8","abs":0.1519},
{"nm":300,"series":"Outlet 8","abs":0.1523},{"nm":301,"series":"Outlet 8","abs":0.1504},{"nm":302,"series":"Outlet 8","abs":0.1492},{"nm":303,"series":"Outlet 8","abs":0.1488},{"nm":304,"series":"Outlet 8","abs":0.1490},{"nm":305,"series":"Outlet 8","abs":0.1495},{"nm":306,"series":"Outlet 8","abs":0.1472},{"nm":307,"series":"Outlet 8","abs":0.1478},{"nm":308,"series":"Outlet 8","abs":0.1470},{"nm":309,"series":"Outlet 8","abs":0.1475},
{"nm":310,"series":"Outlet 8","abs":0.1472},{"nm":311,"series":"Outlet 8","abs":0.1470},{"nm":312,"series":"Outlet 8","abs":0.1466},{"nm":313,"series":"Outlet 8","abs":0.1468},{"nm":314,"series":"Outlet 8","abs":0.1470},{"nm":315,"series":"Outlet 8","abs":0.1478},{"nm":316,"series":"Outlet 8","abs":0.1492},{"nm":317,"series":"Outlet 8","abs":0.1495},{"nm":318,"series":"Outlet 8","abs":0.1500},{"nm":319,"series":"Outlet 8","abs":0.1495},{"nm":320,"series":"Outlet 8","abs":0.1485},

{"nm":250,"series":"Outlet 9","abs":0.1346},{"nm":251,"series":"Outlet 9","abs":0.1346},{"nm":252,"series":"Outlet 9","abs":0.1338},{"nm":253,"series":"Outlet 9","abs":0.1336},{"nm":254,"series":"Outlet 9","abs":0.1336},{"nm":255,"series":"Outlet 9","abs":0.1334},{"nm":256,"series":"Outlet 9","abs":0.1331},{"nm":257,"series":"Outlet 9","abs":0.1336},{"nm":258,"series":"Outlet 9","abs":0.1338},{"nm":259,"series":"Outlet 9","abs":0.1344},
{"nm":260,"series":"Outlet 9","abs":0.1339},{"nm":261,"series":"Outlet 9","abs":0.1339},{"nm":262,"series":"Outlet 9","abs":0.1343},{"nm":263,"series":"Outlet 9","abs":0.1338},{"nm":264,"series":"Outlet 9","abs":0.1336},{"nm":265,"series":"Outlet 9","abs":0.1336},{"nm":266,"series":"Outlet 9","abs":0.1331},{"nm":267,"series":"Outlet 9","abs":0.1329},{"nm":268,"series":"Outlet 9","abs":0.1331},{"nm":269,"series":"Outlet 9","abs":0.1336},
{"nm":270,"series":"Outlet 9","abs":0.1328},{"nm":271,"series":"Outlet 9","abs":0.1341},{"nm":272,"series":"Outlet 9","abs":0.1346},{"nm":273,"series":"Outlet 9","abs":0.1336},{"nm":274,"series":"Outlet 9","abs":0.1346},{"nm":275,"series":"Outlet 9","abs":0.1360},{"nm":276,"series":"Outlet 9","abs":0.1375},{"nm":277,"series":"Outlet 9","abs":0.1384},{"nm":278,"series":"Outlet 9","abs":0.1413},{"nm":279,"series":"Outlet 9","abs":0.1466},
{"nm":280,"series":"Outlet 9","abs":0.1499},{"nm":281,"series":"Outlet 9","abs":0.1538},{"nm":282,"series":"Outlet 9","abs":0.1569},{"nm":283,"series":"Outlet 9","abs":0.1569},{"nm":284,"series":"Outlet 9","abs":0.1562},{"nm":285,"series":"Outlet 9","abs":0.1552},{"nm":286,"series":"Outlet 9","abs":0.1538},{"nm":287,"series":"Outlet 9","abs":0.1547},{"nm":288,"series":"Outlet 9","abs":0.1533},{"nm":289,"series":"Outlet 9","abs":0.1504},
{"nm":290,"series":"Outlet 9","abs":0.1472},{"nm":291,"series":"Outlet 9","abs":0.1456},{"nm":292,"series":"Outlet 9","abs":0.1437},{"nm":293,"series":"Outlet 9","abs":0.1408},{"nm":294,"series":"Outlet 9","abs":0.1384},{"nm":295,"series":"Outlet 9","abs":0.1360},{"nm":296,"series":"Outlet 9","abs":0.1360},{"nm":297,"series":"Outlet 9","abs":0.1346},{"nm":298,"series":"Outlet 9","abs":0.1331},{"nm":299,"series":"Outlet 9","abs":0.1324},
{"nm":300,"series":"Outlet 9","abs":0.1317},{"nm":301,"series":"Outlet 9","abs":0.1307},{"nm":302,"series":"Outlet 9","abs":0.1290},{"nm":303,"series":"Outlet 9","abs":0.1278},{"nm":304,"series":"Outlet 9","abs":0.1276},{"nm":305,"series":"Outlet 9","abs":0.1264},{"nm":306,"series":"Outlet 9","abs":0.1269},{"nm":307,"series":"Outlet 9","abs":0.1276},{"nm":308,"series":"Outlet 9","abs":0.1264},{"nm":309,"series":"Outlet 9","abs":0.1270},
{"nm":310,"series":"Outlet 9","abs":0.1264},{"nm":311,"series":"Outlet 9","abs":0.1269},{"nm":312,"series":"Outlet 9","abs":0.1269},{"nm":313,"series":"Outlet 9","abs":0.1259},{"nm":314,"series":"Outlet 9","abs":0.1254},{"nm":315,"series":"Outlet 9","abs":0.1280},{"nm":316,"series":"Outlet 9","abs":0.1276},{"nm":317,"series":"Outlet 9","abs":0.1278},{"nm":318,"series":"Outlet 9","abs":0.1283},{"nm":319,"series":"Outlet 9","abs":0.1280},{"nm":320,"series":"Outlet 9","abs":0.1288}
],
"blood":[
{"nm":250,"series":"Blood","abs":2.145},{"nm":251,"series":"Blood","abs":2.147},{"nm":252,"series":"Blood","abs":2.153},{"nm":253,"series":"Blood","abs":2.156},{"nm":254,"series":"Blood","abs":2.163},{"nm":255,"series":"Blood","abs":2.168},{"nm":256,"series":"Blood","abs":2.170},{"nm":257,"series":"Blood","abs":2.172},{"nm":258,"series":"Blood","abs":2.175},{"nm":259,"series":"Blood","abs":2.177},
{"nm":260,"series":"Blood","abs":2.180},{"nm":261,"series":"Blood","abs":2.186},{"nm":262,"series":"Blood","abs":2.188},{"nm":263,"series":"Blood","abs":2.192},{"nm":264,"series":"Blood","abs":2.194},{"nm":265,"series":"Blood","abs":2.195},{"nm":266,"series":"Blood","abs":2.198},{"nm":267,"series":"Blood","abs":2.200},{"nm":268,"series":"Blood","abs":2.202},{"nm":269,"series":"Blood","abs":2.203},
{"nm":270,"series":"Blood","abs":2.203},{"nm":271,"series":"Blood","abs":2.212},{"nm":272,"series":"Blood","abs":2.215},{"nm":273,"series":"Blood","abs":2.220},{"nm":274,"series":"Blood","abs":2.228},{"nm":275,"series":"Blood","abs":2.235},{"nm":276,"series":"Blood","abs":2.249},{"nm":277,"series":"Blood","abs":2.270},{"nm":278,"series":"Blood","abs":2.286},{"nm":279,"series":"Blood","abs":2.318},
{"nm":280,"series":"Blood","abs":2.361},{"nm":281,"series":"Blood","abs":2.421},{"nm":282,"series":"Blood","abs":2.492},{"nm":283,"series":"Blood","abs":2.577},{"nm":284,"series":"Blood","abs":2.669},{"nm":285,"series":"Blood","abs":2.775},{"nm":286,"series":"Blood","abs":2.888},{"nm":287,"series":"Blood","abs":2.991},{"nm":288,"series":"Blood","abs":3.104},{"nm":289,"series":"Blood","abs":3.205},
{"nm":290,"series":"Blood","abs":3.311},{"nm":291,"series":"Blood","abs":3.410},{"nm":292,"series":"Blood","abs":3.513},{"nm":293,"series":"Blood","abs":3.597},{"nm":294,"series":"Blood","abs":3.676},{"nm":295,"series":"Blood","abs":3.759},{"nm":296,"series":"Blood","abs":3.832},{"nm":297,"series":"Blood","abs":3.899},{"nm":298,"series":"Blood","abs":3.964},{"nm":299,"series":"Blood","abs":4.023},
{"nm":300,"series":"Blood","abs":4.082},{"nm":301,"series":"Blood","abs":4.129},{"nm":302,"series":"Blood","abs":4.175},{"nm":303,"series":"Blood","abs":4.217},{"nm":304,"series":"Blood","abs":4.259},{"nm":305,"series":"Blood","abs":4.305},{"nm":306,"series":"Blood","abs":4.335},{"nm":307,"series":"Blood","abs":4.372},{"nm":308,"series":"Blood","abs":4.402},{"nm":309,"series":"Blood","abs":4.439},
{"nm":310,"series":"Blood","abs":4.464},{"nm":311,"series":"Blood","abs":4.494},{"nm":312,"series":"Blood","abs":4.514},{"nm":313,"series":"Blood","abs":4.539},{"nm":314,"series":"Blood","abs":4.561},{"nm":315,"series":"Blood","abs":4.586},{"nm":316,"series":"Blood","abs":4.603},{"nm":317,"series":"Blood","abs":4.620},{"nm":318,"series":"Blood","abs":4.642},{"nm":319,"series":"Blood","abs":4.662},{"nm":320,"series":"Blood","abs":4.675}
]
},
"resolve":{"scale":{"y":"independent"}},
"layer":[
{
"layer":[
{
"data":{"name":"main"},
"mark":{"type":"line","strokeJoin":"round"},
"encoding":{
"x":{"field":"nm","type":"quantitative","scale":{"domain":[250,320],"nice":false,"zero":false},
"axis":{"values":[250,260,270,280,290,300,310,320],"format":"d","tickSize":0,"labelPadding":78,"labelBaseline":"alphabetic","labelFlush":false,"title":"Wavelength (nm)","titleX":1461.5,"titleY":164,"titleAlign":"center","titleBaseline":"alphabetic","titleFontSize":72}},
"y":{"field":"abs","type":"quantitative","scale":{"domain":[0,0.5],"nice":false,"zero":false},
"axis":{"orient":"left","values":[0,0.05,0.1,0.15,0.2,0.25,0.3,0.35,0.4,0.45,0.5],"format":"~g","tickSize":0,"labelPadding":47,"grid":true,"gridColor":"#e6e6e6","gridWidth":2,"title":"Optical absorption (a.u.)","titleAngle":270,"titleX":-234,"titleY":830,"titleAlign":"center","titleBaseline":"alphabetic","titleFontSize":70}},
"color":{"field":"series","type":"nominal",
"scale":{"domain":["Glutaraldehyde 0.02%","Inicial Solution","Outlet 1","Outlet 2","Outlet 3","Outlet 4","Outlet 5","Outlet 6","Outlet 7","Outlet 8","Outlet 9","Blood"],
"range":["#9dc3e6","#ff7f27","#d9d9d9","#ff99cc","#1e96de","#66e0b4","#9a9a9a","#d4703c","#7a2fa8","#d9bd84","#9cc0e0","#a9c89f"]},
"legend":{"orient":"none","legendX":114,"legendY":2076,"direction":"horizontal","columns":4,"gridAlign":"all","columnPadding":177,"rowPadding":34,"symbolType":"stroke","symbolSize":3025,"symbolStrokeWidth":3.5,"labelFontSize":52,"labelColor":"#000000","labelOffset":10,"labelLimit":2000,"title":null,"padding":0,"offset":0,
"encode":{"symbols":{"update":{
"shape":{"signal":"datum.value === 'Glutaraldehyde 0.02%' ? 'M-1,0H1M-0.2,-0.2H0.2V0.2H-0.2Z' : datum.value === 'Inicial Solution' ? 'M-1,0H0.4M0.2,-0.3L0.9,0L0.2,0.3Z' : datum.value === 'Blood' ? 'M-1,0H1M0.25,0A0.25,0.25,0,1,1,-0.25,0A0.25,0.25,0,1,1,0.25,0Z' : 'stroke'"},
"fill":{"signal":"datum.value === 'Glutaraldehyde 0.02%' ? '#1f6fd1' : datum.value === 'Inicial Solution' ? '#ff7f27' : datum.value === 'Blood' ? '#1b6b1e' : 'transparent'"},
"strokeWidth":{"signal":"datum.value === 'Outlet 7' ? 5 : datum.value === 'Outlet 3' ? 5 : datum.value === 'Inicial Solution' ? 4.5 : 3.5"}
}}}}},
"strokeWidth":{"condition":[{"test":"datum.series === 'Outlet 7'","value":6},{"test":"datum.series === 'Outlet 3'","value":5.5},{"test":"datum.series === 'Inicial Solution'","value":5},{"test":"datum.series === 'Outlet 6'","value":3.5}],"value":3}
}
},
{
"data":{"name":"main"},
"transform":[{"filter":"datum.series === 'Glutaraldehyde 0.02%'"}],
"mark":{"type":"point","shape":"square","filled":true,"size":150,"color":"#1f6fd1","opacity":1},
"encoding":{"x":{"field":"nm","type":"quantitative"},"y":{"field":"abs","type":"quantitative"}}
},
{
"data":{"name":"main"},
"transform":[{"filter":"datum.series === 'Inicial Solution'"}],
"mark":{"type":"point","shape":"triangle-right","filled":true,"size":280,"color":"#ff7f27","opacity":1},
"encoding":{"x":{"field":"nm","type":"quantitative"},"y":{"field":"abs","type":"quantitative"}}
},
{
"data":{"values":[{"nm":274.74,"abs":0.4025,"abs2":-0.006},{"nm":284.39,"abs":0.4067,"abs2":-0.009},{"nm":294.83,"abs":0.4115,"abs2":-0.005}]},
"mark":{"type":"rule","color":"#1f6ed4","strokeWidth":6,"strokeDash":[32,13]},
"encoding":{"x":{"field":"nm","type":"quantitative"},"y":{"field":"abs","type":"quantitative"},"y2":{"field":"abs2"}}
},
{
"data":{"values":[{"nm":275.1,"nm2":283.88,"abs":0.3663},{"nm":285.27,"nm2":293.96,"abs":0.3663}]},
"mark":{"type":"rule","color":"#2070d0","strokeWidth":5},
"encoding":{"x":{"field":"nm","type":"quantitative"},"x2":{"field":"nm2"},"y":{"field":"abs","type":"quantitative"}}
},
{
"data":{"values":[{"nm":275.1,"abs":0.3663},{"nm":285.27,"abs":0.3663}]},
"mark":{"type":"point","shape":"triangle-left","filled":true,"size":420,"color":"#2070d0","opacity":1},
"encoding":{"x":{"field":"nm","type":"quantitative"},"y":{"field":"abs","type":"quantitative"}}
},
{
"data":{"values":[{"nm":283.88,"abs":0.3663},{"nm":293.96,"abs":0.3663}]},
"mark":{"type":"point","shape":"triangle-right","filled":true,"size":420,"color":"#2070d0","opacity":1},
"encoding":{"x":{"field":"nm","type":"quantitative"},"y":{"field":"abs","type":"quantitative"}}
},
{
"data":{"values":[{"nm":277.43,"abs":0.4696,"nm2":283.55,"abs2":0.4248}]},
"mark":{"type":"rule","color":"#000000","strokeWidth":6},
"encoding":{"x":{"field":"nm","type":"quantitative"},"x2":{"field":"nm2"},"y":{"field":"abs","type":"quantitative"},"y2":{"field":"abs2"}}
},
{
"data":{"values":[{"nm":283.6,"abs":0.4245}]},
"mark":{"type":"point","shape":"triangle-right","filled":true,"size":520,"angle":32.6,"color":"#000000","opacity":1},
"encoding":{"x":{"field":"nm","type":"quantitative"},"y":{"field":"abs","type":"quantitative"}}
},
{
"data":{"values":[{"nm":284.21,"nm2":289.71,"abs":0.457,"abs2":0.4307}]},
"mark":{"type":"rect","fill":"#ffffff","stroke":"#3a3a3a","strokeWidth":3},
"encoding":{"x":{"field":"nm","type":"quantitative"},"x2":{"field":"nm2"},"y":{"field":"abs","type":"quantitative"},"y2":{"field":"abs2"}}
},
{
"data":{"values":[{"nm":286.63,"abs":0.4409,"label":"285 nm"}]},
"mark":{"type":"text","font":"Liberation Serif","fontSize":52,"align":"center","baseline":"alphabetic","color":"#000000"},
"encoding":{"x":{"field":"nm","type":"quantitative"},"y":{"field":"abs","type":"quantitative"},"text":{"field":"label"}}
},
{
"data":{"values":[{"nm":272.17,"abs":0.4766,"label":"ABSORPTION PEAK"}]},
"mark":{"type":"text","font":"Liberation Serif","fontSize":58,"fontWeight":"bold","align":"center","baseline":"alphabetic","color":"#000000"},
"encoding":{"x":{"field":"nm","type":"quantitative"},"y":{"field":"abs","type":"quantitative"},"text":{"field":"label"}}
},
{
"data":{"values":[{"nm":279.35,"abs":0.4052,"label":"ASCENDING"},{"nm":279.35,"abs":0.3871,"label":"SLOPE"},{"nm":289.98,"abs":0.4052,"label":"DESCENDING"},{"nm":289.98,"abs":0.3871,"label":"SLOPE"}]},
"mark":{"type":"text","font":"Liberation Serif","fontSize":58,"align":"center","baseline":"alphabetic","color":"#000000"},
"encoding":{"x":{"field":"nm","type":"quantitative"},"y":{"field":"abs","type":"quantitative"},"text":{"field":"label"}}
}
]
},
{
"layer":[
{
"data":{"name":"blood"},
"mark":{"type":"line","strokeWidth":2.5},
"encoding":{
"x":{"field":"nm","type":"quantitative"},
"y":{"field":"abs","type":"quantitative","scale":{"domain":[0,6],"nice":false,"zero":false},
"axis":{"orient":"right","values":[0,1,2,3,4,5,6],"format":"d","tickSize":14,"labelPadding":29,"title":"Optical absorption (a.u.)","titleAngle":270,"titleX":170,"titleY":830,"titleAlign":"center","titleBaseline":"alphabetic","titleFontSize":70}},
"color":{"field":"series","type":"nominal"}
}
},
{
"data":{"name":"blood"},
"mark":{"type":"point","shape":"circle","filled":true,"size":260,"color":"#1b6b1e","opacity":1},
"encoding":{"x":{"field":"nm","type":"quantitative"},"y":{"field":"abs","type":"quantitative"}}
},
{
"data":{"values":[{"nm":306,"abs":4.34,"k":1},{"nm":313.61,"abs":4.34,"k":2},{"nm":313.61,"abs":3.215,"k":3},{"nm":320.95,"abs":3.215,"k":4}]},
"mark":{"type":"line","color":"#3d7a3d","strokeWidth":3},
"encoding":{"x":{"field":"nm","type":"quantitative"},"y":{"field":"abs","type":"quantitative"},"order":{"field":"k","type":"quantitative"}}
},
{
"data":{"values":[{"nm":321.03,"abs":3.215}]},
"mark":{"type":"point","shape":"triangle-right","filled":true,"size":220,"color":"#3d7a3d","opacity":1},
"encoding":{"x":{"field":"nm","type":"quantitative"},"y":{"field":"abs","type":"quantitative"}}
}
]
}
]
}
